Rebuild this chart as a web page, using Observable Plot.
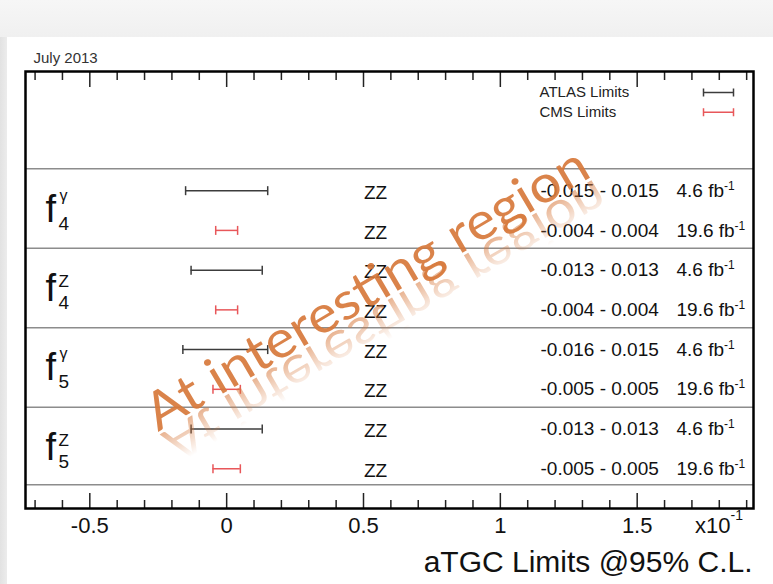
<!DOCTYPE html>
<html><head><meta charset="utf-8">
<script src="https://cdn.jsdelivr.net/npm/d3@7"></script>
<script src="https://cdn.jsdelivr.net/npm/@observablehq/plot@0.6"></script>
<style>
html,body{margin:0;padding:0;background:#fff;}
#page{position:relative;width:773px;height:584px;overflow:hidden;background:#fff;}
#topband{position:absolute;left:0;top:0;width:773px;height:37px;background:linear-gradient(#f6f6f6,#f0f0f0);}
#leftband{position:absolute;left:0;top:37px;width:7px;height:547px;background:linear-gradient(90deg,#e2e2e2,#ececec);}
#chart{position:absolute;left:0;top:0;}
</style></head>
<body><div id="page"><div id="topband"></div><div id="leftband"></div><div id="chart"></div></div>
<script>
// ---- data ----
const couplingBase = "f";
const couplingSup = ["γ", "Z", "γ", "Z"];
const couplingSub = ["4", "4", "5", "5"];
const experiments = ["ATLAS", "CMS"];
const processLabel = "ZZ";
const atlasLow  = [-0.015, -0.013, -0.016, -0.013];
const atlasHigh = [ 0.015,  0.013,  0.015,  0.013];
const cmsLow    = [-0.004, -0.004, -0.005, -0.005];
const cmsHigh   = [ 0.004,  0.004,  0.005,  0.005];
const atlasLumi = "4.6";
const cmsLumi = "19.6";
const lumiUnit = "fb^{-1}";
const majorTicks = [-0.5, 0, 0.5, 1, 1.5];
const minorTicks = [-0.7, -0.6, -0.4, -0.3, -0.2, -0.1, 0.1, 0.2, 0.3, 0.4, 0.6, 0.7, 0.8, 0.9, 1.1, 1.2, 1.3, 1.4, 1.6, 1.7, 1.8, 1.9];
const legendLabels = ["ATLAS Limits", "CMS Limits"];
const dateLabel = "July 2013";
const scaleLabel = "x10";
const scaleExp = "-1";
const axisTitle = "aTGC Limits @95% C.L.";
const watermark = "At interesting region";
const xScaleFactor = 10; // values shown in units of 10^-1

// ---- derived tables ----
const rows = [];
const groups = [];
couplingSup.forEach((sup, i) => {
  rows.push({exp: "ATLAS", pos: 3 + 2 * i, lo: atlasLow[i], hi: atlasHigh[i], lumi: atlasLumi, proc: processLabel});
  rows.push({exp: "CMS", pos: 4 + 2 * i, lo: cmsLow[i], hi: cmsHigh[i], lumi: cmsLumi, proc: processLabel});
  groups.push({sup, sub: couplingSub[i], center: 3.5 + 2 * i});
});
const separators = [2.45, 4.45, 6.45, 8.45, 10.4];

const cap = {draw(ctx) { ctx.moveTo(0, -4.5); ctx.lineTo(0, 4.5); }};
const swatch = {draw(ctx) {
  ctx.moveTo(-15, 0); ctx.lineTo(15, 0);
  ctx.moveTo(-15, -4); ctx.lineTo(-15, 4);
  ctx.moveTo(15, -4); ctx.lineTo(15, 4);
}};

const legendMarks = legendLabels.flatMap((lab, i) => [
  Plot.text([lab], {text: d => d, frameAnchor: "top-right", textAnchor: "start", lineAnchor: "middle", dx: -214, dy: 21 + i * 19.7, fontSize: 15, fill: "#222"}),
  Plot.dot([experiments[i]], {frameAnchor: "top-right", dx: -35, dy: 21 + i * 19.7, symbol: swatch, stroke: d => d, fill: "none", strokeWidth: 1.5})
]);

const plot = Plot.plot({
  width: 773, height: 584,
  marginLeft: 25, marginRight: 20, marginTop: 71, marginBottom: 76,
  style: {background: "transparent", fontFamily: "'Liberation Sans', Arial, Helvetica, sans-serif", color: "#111"},
  x: {domain: [-0.735, 1.925], axis: null, label: null},
  y: {domain: [0, 11], reverse: true, axis: null, label: null},
  color: {domain: experiments, range: ["#3c3c3c", "#e8575a"]},
  marks: [
    Plot.ruleY(separators, {stroke: "#8c8c8c", strokeWidth: 1.5}),
    Plot.axisX(majorTicks, {anchor: "bottom", tickSize: -15, tickPadding: 24, fontSize: 22, tickFormat: d => String(d), label: null, strokeWidth: 1.5, stroke: "#222", fill: "#111"}),
    Plot.axisX(minorTicks, {anchor: "bottom", tickSize: -8, tickFormat: () => "", label: null, strokeWidth: 1.5, stroke: "#222"}),
    Plot.axisX(majorTicks, {anchor: "top", tickSize: -15, tickFormat: () => "", label: null, strokeWidth: 1.5, stroke: "#222"}),
    Plot.axisX(minorTicks, {anchor: "top", tickSize: -8, tickFormat: () => "", label: null, strokeWidth: 1.5, stroke: "#222"}),
    Plot.frame({stroke: "#000", strokeWidth: 2.5}),
    Plot.ruleY(rows, {y: "pos", x1: d => d.lo * xScaleFactor, x2: d => d.hi * xScaleFactor, stroke: "exp", strokeWidth: 1.5}),
    Plot.dot(rows, {x: d => d.lo * xScaleFactor, y: "pos", symbol: cap, stroke: "exp", fill: "none", strokeWidth: 1.5}),
    Plot.dot(rows, {x: d => d.hi * xScaleFactor, y: "pos", symbol: cap, stroke: "exp", fill: "none", strokeWidth: 1.5}),
    Plot.text(rows, {y: "pos", text: "proc", frameAnchor: "middle", dx: -14, dy: 2, fontSize: 19, fill: "#111"}),
    Plot.text(rows, {y: "pos", text: d => `${d.lo} - ${d.hi}`, frameAnchor: "right", textAnchor: "start", dx: -213, fontSize: 19, fill: "#111"}),
    Plot.text(rows, {y: "pos", text: d => `${d.lumi} ${lumiUnit}`, frameAnchor: "right", textAnchor: "start", dx: -77, fontSize: 19, fill: "#111"}),
    Plot.text(groups, {y: "center", text: () => couplingBase, frameAnchor: "left", textAnchor: "start", lineAnchor: "bottom", dx: 20, dy: 11, fontSize: 38, fill: "#111"}),
    Plot.text(groups, {filter: d => d.sup === "γ", y: "center", text: "sup", frameAnchor: "left", textAnchor: "start", lineAnchor: "bottom", dx: 34, dy: -10, fontSize: 16, fill: "#111"}),
    Plot.text(groups, {filter: d => d.sup !== "γ", y: "center", text: "sup", frameAnchor: "left", textAnchor: "start", lineAnchor: "bottom", dx: 33, dy: -3, fontSize: 17, fill: "#111"}),
    Plot.text(groups, {y: "center", text: "sub", frameAnchor: "left", textAnchor: "start", lineAnchor: "bottom", dx: 33, dy: 19, fontSize: 19, fill: "#111"}),
    ...legendMarks,
    Plot.text([dateLabel], {text: d => d, frameAnchor: "top-left", textAnchor: "start", lineAnchor: "bottom", dx: 8, dy: -9, fontSize: 15, fill: "#333"}),
    Plot.text([scaleLabel], {text: d => d, frameAnchor: "bottom-right", textAnchor: "end", lineAnchor: "top", dx: -23, dy: 9, fontSize: 22, fill: "#111"}),
    Plot.text([scaleExp], {text: d => d, frameAnchor: "bottom-right", textAnchor: "start", lineAnchor: "top", dx: -23, dy: 2, fontSize: 14, fill: "#111"}),
    Plot.text([axisTitle], {text: d => d, frameAnchor: "bottom-right", textAnchor: "end", lineAnchor: "bottom", dx: -1, dy: 63, fontSize: 30, fill: "#111"})
  ]
});
document.getElementById("chart").appendChild(plot);

// superscripts written as ^{...}
const ns = "http://www.w3.org/2000/svg";
for (const t of plot.querySelectorAll("text")) {
  const s = t.textContent;
  const m = s.match(/^(.*)\^\{(.*)\}$/);
  if (!m) continue;
  const fs = parseFloat(getComputedStyle(t).fontSize) || 19;
  t.textContent = "";
  const a = document.createElementNS(ns, "tspan"); a.textContent = m[1]; t.appendChild(a);
  const b = document.createElementNS(ns, "tspan"); b.textContent = m[2];
  b.setAttribute("font-size", (fs * 0.63).toFixed(1));
  b.setAttribute("dy", (-fs * 0.37).toFixed(1));
  t.appendChild(b);
}

// watermark overlay with reflection
const wm = document.createElementNS(ns, "g");
wm.innerHTML = `<defs>
<linearGradient id="wmfade" gradientUnits="userSpaceOnUse" x1="0" y1="0" x2="0" y2="38">
<stop offset="0" stop-color="#fff" stop-opacity="0.6"/><stop offset="1" stop-color="#fff" stop-opacity="0"/></linearGradient>
<mask id="wmmask" maskUnits="userSpaceOnUse" x="-30" y="-5" width="620" height="70"><rect x="-30" y="-5" width="620" height="70" fill="url(#wmfade)"/></mask>
</defs>
<g transform="translate(158,432) rotate(-30.5)" font-family="Lato, 'Open Sans', sans-serif" font-size="52" fill="#d7783b" text-anchor="start">
<g mask="url(#wmmask)"><text transform="translate(0,3) scale(1,-1)" textLength="505" lengthAdjust="spacingAndGlyphs"></text></g>
<text textLength="505" lengthAdjust="spacingAndGlyphs" fill-opacity="0.92"></text>
</g>`;
wm.querySelectorAll("text").forEach(t => t.textContent = watermark);
plot.appendChild(wm);
</script>
</body></html>
